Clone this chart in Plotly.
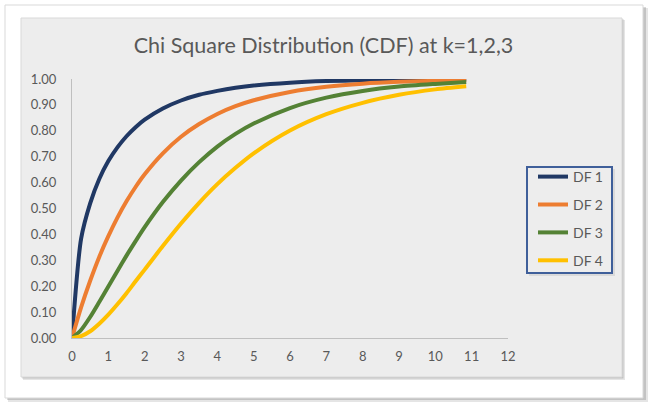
import plotly.graph_objects as go

x_vals = [0, 0.25, 0.5, 0.75, 1, 1.25, 1.5, 1.75, 2, 2.5, 3, 3.5, 4, 4.5, 5, 6, 7, 8, 9, 10, 10.85]
df1 = [0, 0.383, 0.520, 0.614, 0.683, 0.736, 0.779, 0.814, 0.843, 0.886, 0.917, 0.939, 0.954, 0.966, 0.975, 0.986, 0.992, 0.995, 0.997, 0.998, 0.999]
df2 = [0, 0.118, 0.221, 0.313, 0.393, 0.465, 0.528, 0.583, 0.632, 0.713, 0.777, 0.826, 0.865, 0.895, 0.918, 0.950, 0.970, 0.982, 0.989, 0.993, 0.996]
df3 = [0, 0.031, 0.081, 0.139, 0.199, 0.259, 0.318, 0.374, 0.428, 0.525, 0.608, 0.679, 0.739, 0.788, 0.828, 0.888, 0.928, 0.954, 0.971, 0.981, 0.988]
df4 = [0, 0.0072, 0.026, 0.055, 0.090, 0.130, 0.173, 0.219, 0.264, 0.355, 0.442, 0.522, 0.594, 0.657, 0.713, 0.801, 0.864, 0.908, 0.939, 0.960, 0.972]

series_names = ["DF 1", "DF 2", "DF 3", "DF 4"]
series_vals = [df1, df2, df3, df4]
colors = ["#203864", "#ED7D31", "#548235", "#FFC000"]

x_ticks = list(range(0, 13))
y_ticks = [i / 10 for i in range(0, 11)]
y_tick_text = [f"{v:.2f}" for v in y_ticks]

W, H = 652, 407
L, R, T, B = 72, 508, 79, 338  # plot area in pixels

def px(xp):
    return (xp - L) / (R - L)

def py(yp):
    return (B - yp) / (B - T)

fig = go.Figure()
for i, (name, vals, col) in enumerate(zip(series_names, series_vals, colors)):
    fig.add_trace(go.Scatter(
        x=x_vals, y=vals, mode="lines", name=name,
        line=dict(color=col, width=4, shape="spline", smoothing=0.7),
        legendgroup=f"g{i}", cliponaxis=False, hoverinfo="skip",
    ))

shapes = []
def rect(x0, y0, x1, y1, fill, line_color=None, lw=0):
    shapes.append(dict(type="rect", xref="paper", yref="paper", layer="below",
                       x0=px(x0), x1=px(x1), y0=py(y1), y1=py(y0),
                       fillcolor=fill,
                       line=dict(color=line_color or "rgba(0,0,0,0)", width=lw)))

# card shadow
rect(8, 8, 648, 402, "rgba(0,0,0,0.10)")
rect(7, 7, 646, 400, "rgba(0,0,0,0.15)")
# white card
rect(5, 5, 643, 398, "#FFFFFF", "#D9D9D9", 1)
# chart area shadow
rect(23, 20, 625, 380, "rgba(0,0,0,0.10)")
rect(22, 19, 623.5, 378.5, "rgba(0,0,0,0.15)")
# chart area
rect(21, 18, 622, 377, "#EDEDED", "#D9D9D9", 1)
# legend box shadow and frame
rect(529, 169, 615, 276, "rgba(0,0,0,0.08)")
rect(527, 167, 612, 273, "#EDEDED", "#3F5F9A", 2)

fig.update_layout(
    width=W, height=H,
    margin=dict(l=L, r=W - R, t=T, b=H - B, autoexpand=False),
    paper_bgcolor="#FFFFFF",
    plot_bgcolor="rgba(0,0,0,0)",
    shapes=shapes,
    font=dict(family="Lato", color="#595959", size=13),
    title=dict(text="Chi Square Distribution (CDF) at k=1,2,3",
               x=px(323.5), xref="paper", xanchor="center",
               y=1 - 45 / H, yref="container", yanchor="middle",
               font=dict(family="Lato", size=21.5, color="#595959")),
    xaxis=dict(range=[0, 12], tickvals=x_ticks, showgrid=False, zeroline=False,
               showline=True, linecolor="#BFBFBF", linewidth=1, ticks="",
               ticklabelstandoff=6, tickfont=dict(size=13, color="#595959"),
               fixedrange=True),
    yaxis=dict(range=[0, 1], tickvals=y_ticks, ticktext=y_tick_text, showgrid=False,
               zeroline=False, showline=True, linecolor="#BFBFBF", linewidth=1,
               ticks="", ticklabelstandoff=12, tickfont=dict(size=13, color="#595959"),
               fixedrange=True),
    showlegend=True,
    legend=dict(x=px(533), y=py(161), xanchor="left", yanchor="top",
                xref="paper", yref="paper",
                bgcolor="rgba(0,0,0,0)", borderwidth=0,
                font=dict(size=14, color="#595959", family="Lato"),
                traceorder="grouped", tracegroupgap=6.7, itemwidth=30),
)

fig.write_html("out.html")
